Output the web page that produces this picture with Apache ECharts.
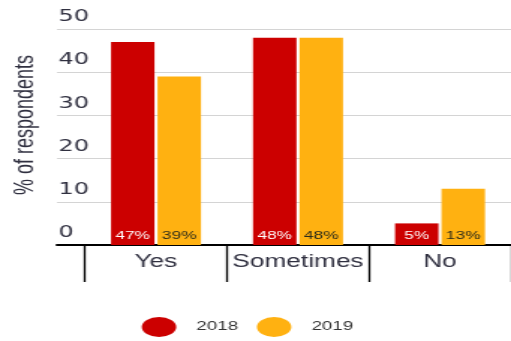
<!DOCTYPE html>
<html>
<head>
<meta charset="utf-8">
<script src="https://cdn.jsdelivr.net/npm/echarts@6/dist/echarts.min.js"></script>
<style>
  html, body { margin: 0; padding: 0; background: #fff; overflow: hidden; }
  /* chart is laid out on a square canvas, then widened to the page width */
  #chart { width: 341px; height: 341px; transform: scaleX(1.4985); transform-origin: 0 0; }
</style>
</head>
<body>
<div id="chart"></div>
<script>
const categories = ['Yes', 'Sometimes', 'No'];
const values2018 = [47, 48, 5];
const values2019 = [39, 48, 13];
const seriesNames = ['2018', '2019'];
const yMin = 0, yMax = 50, yStep = 10;

const RED = '#cc0000';
const AMBER = '#ffb111';
const INK = '#303040';

const chart = echarts.init(document.getElementById('chart'), null, { renderer: 'canvas' });

const barLabel = (color) => ({
  show: true,
  position: 'insideBottom',
  distance: 3,
  formatter: '{c}%',
  color: color,
  fontFamily: 'Liberation Sans',
  fontSize: 11.5
});

chart.setOption({
  animation: false,
  backgroundColor: '#fff',
  grid: [
    // frame grid: value scale, gridlines and baseline
    { left: 33.4, right: 0, top: 29, bottom: 96 },
    // bar grid: categories start further right
    { left: 56.7, right: 0, top: 29, bottom: 96 }
  ],
  xAxis: [
    {
      gridIndex: 0, type: 'category', data: [''],
      axisLine: { show: true, lineStyle: { color: '#000', width: 2 } },
      axisTick: { show: false }, axisLabel: { show: false }, splitLine: { show: false }
    },
    {
      gridIndex: 1, type: 'category', data: categories,
      axisLine: { show: true, lineStyle: { color: '#000', width: 2 } },
      axisTick: { show: true, interval: 0, length: 37, alignWithLabel: false, lineStyle: { color: '#000', width: 1.3 } },
      axisLabel: { interval: 0, color: INK, fontFamily: 'Liberation Sans', fontSize: 17.5, margin: 8 }
    }
  ],
  yAxis: [
    {
      gridIndex: 0, type: 'value', min: yMin, max: yMax, interval: yStep,
      name: '% of respondents', nameLocation: 'middle', nameGap: 12,
      nameTextStyle: { color: INK, fontFamily: 'Liberation Sans', fontSize: 18, padding: [0, 0, 0, 24] },
      axisLine: { show: false }, axisTick: { show: false },
      axisLabel: {
        inside: true, margin: 1, verticalAlign: 'bottom', padding: [0, 0, 4, 0],
        color: INK, fontFamily: 'DejaVu Sans', fontSize: 16
      },
      splitLine: { show: true, lineStyle: { color: '#d4d4d4', width: 1.2 } }
    },
    { gridIndex: 1, type: 'value', min: yMin, max: yMax, interval: yStep, show: false }
  ],
  legend: {
    data: seriesNames,
    left: 94.6, top: 317, padding: 0,
    itemWidth: 23, itemHeight: 20, itemGap: 12.5,
    symbolKeepAspect: false,
    icon: 'path://M0,50 A50,50 0 1,1 100,50 A50,50 0 1,1 0,50 Z',
    textStyle: { color: '#333', fontFamily: 'Liberation Sans', fontSize: 12.5, padding: [3, 0, 0, 8.5] }
  },
  series: [
    {
      name: seriesNames[0], type: 'bar', xAxisIndex: 1, yAxisIndex: 1,
      data: values2018, barWidth: 29, barGap: '7%',
      itemStyle: { color: RED }, label: barLabel('#fff')
    },
    {
      name: seriesNames[1], type: 'bar', xAxisIndex: 1, yAxisIndex: 1,
      data: values2019, barWidth: 29, barGap: '7%',
      itemStyle: { color: AMBER }, label: barLabel('#2a2a1a')
    }
  ]
});
</script>
</body>
</html>
